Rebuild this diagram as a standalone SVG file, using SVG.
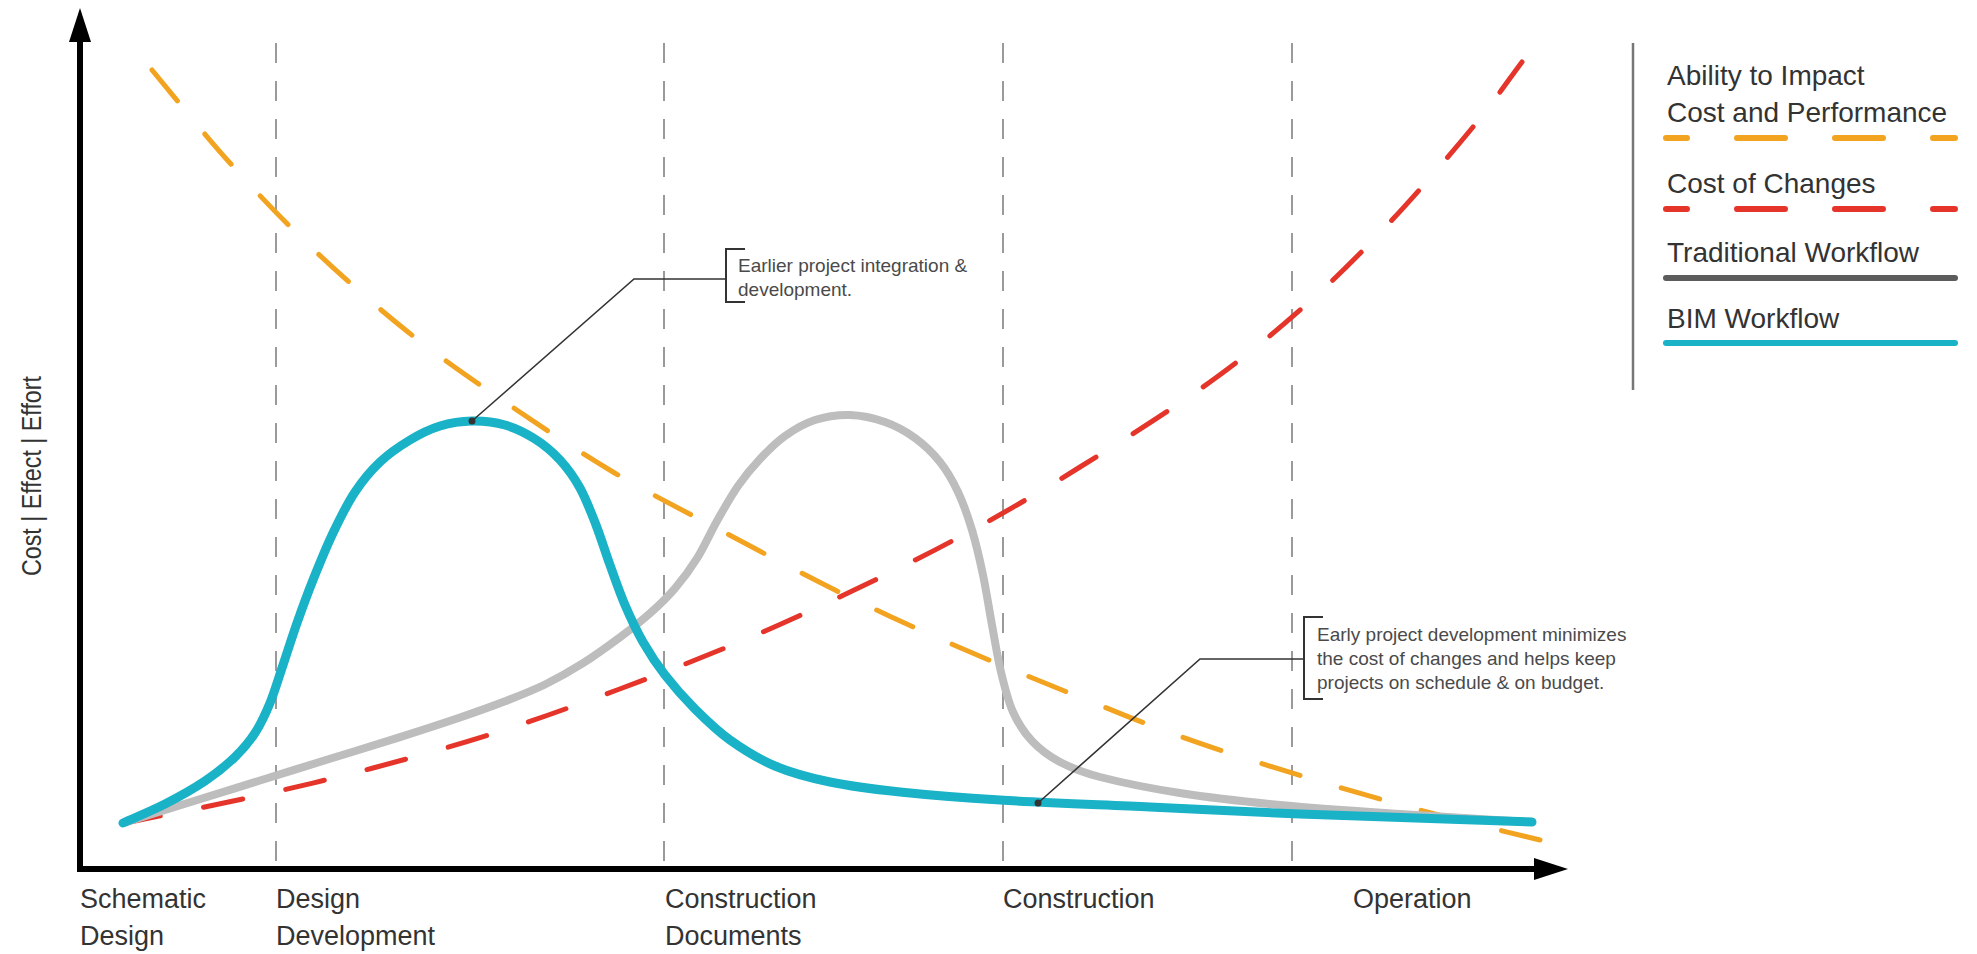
<svg xmlns="http://www.w3.org/2000/svg" width="1977" height="954" viewBox="0 0 1977 954">
<style>
.grid{stroke:#9a9a9a;stroke-width:2;stroke-dasharray:20 18;fill:none}
.axis{stroke:#000;stroke-width:6;fill:none}
.lbl{font-family:"Liberation Sans",Arial,sans-serif;font-size:27px;fill:#333}
.leg{font-family:"Liberation Sans",Arial,sans-serif;font-size:28px;fill:#333}
.note{font-family:"Liberation Sans",Arial,sans-serif;font-size:19px;fill:#4a4a4a}
.orange{stroke:#F2A31F;stroke-width:5;fill:none;stroke-dasharray:40 43;stroke-linecap:round}
.red{stroke:#E5352B;stroke-width:5;fill:none;stroke-dasharray:40 44;stroke-linecap:round}
.trad{stroke:#BDBDBD;stroke-width:8;fill:none;stroke-linecap:round;stroke-linejoin:round}
.bim{stroke:#19B2C6;stroke-width:9;fill:none;stroke-linecap:round;stroke-linejoin:round}
.leader{stroke:#333;stroke-width:1.6;fill:none}
.bracket{stroke:#333;stroke-width:2;fill:none}
.legdash{stroke-width:6;stroke-dasharray:48 50;stroke-dashoffset:27;stroke-linecap:round;fill:none}
</style>
<rect width="1977" height="954" fill="#fff"/>
<g id="grid">
<line class="grid" x1="276" y1="43" x2="276" y2="869"/>
<line class="grid" x1="664" y1="43" x2="664" y2="869"/>
<line class="grid" x1="1003" y1="43" x2="1003" y2="869"/>
<line class="grid" x1="1292" y1="43" x2="1292" y2="869"/>
</g>
<g id="axes">
<line class="axis" x1="80" y1="869" x2="80" y2="36"/>
<polygon points="80,8 69,42 91,42" fill="#000"/>
<line class="axis" x1="77" y1="869" x2="1540" y2="869"/>
<polygon points="1568,869 1534,858 1534,880" fill="#000"/>
<text class="lbl" transform="translate(41,476) rotate(-90)" text-anchor="middle" font-size="25" textLength="200" lengthAdjust="spacingAndGlyphs">Cost | Effect | Effort</text>
</g>
<g id="phase-labels">
<text class="lbl" x="80" y="908">Schematic</text>
<text class="lbl" x="80" y="945">Design</text>
<text class="lbl" x="276" y="908">Design</text>
<text class="lbl" x="276" y="945">Development</text>
<text class="lbl" x="665" y="908">Construction</text>
<text class="lbl" x="665" y="945">Documents</text>
<text class="lbl" x="1003" y="908">Construction</text>
<text class="lbl" x="1353" y="908">Operation</text>
</g>
<g id="connectors">
<path id="ability-curve" class="orange" d="M152,70 C176.7,99.7 203,133 230,163 S282.3,219.8 312,248 S375.8,306.3 408,332 S470.8,378.7 505,402 S577.2,450.7 613,472 S683,510.3 720,530 S797.2,571.3 835,590 S908.3,625 947,642 S1027.8,676.2 1067,692 S1142.3,722.8 1182,737 S1264.2,764.5 1305,777 S1387.8,801.5 1427,812 S1502.3,830.7 1540,840"/>
<path id="changes-curve" class="red" stroke-dashoffset="4" d="M125,823 C167.3,814.3 210.7,806.2 252,797 S332,778.8 373,768 S457.3,745 498,732 S577.2,704.8 617,690 S698.2,659.3 737,643 S811.7,610.3 850,592 S928.7,553.8 967,533 S1039.5,492.2 1080,467 S1172,409.3 1210,382 S1277.7,330 1308,303 S1364.5,249.3 1392,220 S1451.3,153.3 1473,127 S1505.7,83.7 1522,62"/>
<path id="traditional-curve" class="trad" d="M123,823 C145.33,816.07 167.17,809.28 190,802.2 S236.67,787.73 260,780.5 S306.67,766.03 330,758.8 S378.33,743.98 400,737.1 S442.5,723.47 460,717.5 S490.83,706.8 505,701.3 S532,690.85 545,684.5 S570.5,671.07 583,663.2 S608.83,645.62 620,637.3 S640.83,621.47 650,613.3 S667.17,597.45 675,588.3 S690,569.62 697,558.4 S710.17,533.07 717,521 S730.83,496.33 738,486 S752.17,467.33 760,459 S775.83,442.5 785,436 S804.17,423.5 815,420 S838.33,414.67 850,415 S874.17,418.17 885,422 S905.83,431.33 915,438 S932.83,453 940,462 S952.67,480.67 958,492 S967.83,516.17 972,530 S979.67,559.17 983,575 S989,608.83 992,625 S997.5,657.5 1001,672 S1007.83,700.5 1013,712 S1024.17,732.67 1032,741 S1048.67,756 1060,762 S1080,771.83 1100,777 S1150,788.33 1180,793 S1243.33,801.5 1280,805 S1358,811.17 1400,814 S1488,819.33 1532,822"/>
<path id="bim-curve" class="bim" d="M123,823 C137,816.67 151.33,811 165,804 S193.33,788.83 205,781 S226.67,765 235,757 S249.17,742 255,733 S265.33,714.33 270,703 S278.5,678.33 283,665 S292,637.17 297,623 S307,595 313,580 S326,547.67 333,533 S347.17,503.83 355,492 S370.83,470.67 380,462 S400,446 410,440 S429.67,429.17 440,426 S461.17,421.17 472,421 S494.5,422 505,425 S525.83,433.17 535,439 S552.5,451.83 560,460 S574,477.17 580,488 S591,512.17 596,525 S605.17,551.67 610,565 S619.5,592.17 625,605 S636.33,630.33 643,642 S656.33,663.83 665,675 S684.17,698.17 695,709 S716.67,730.5 730,740 S758.33,759 775,766 S809.17,777.67 830,782 S871.67,789 900,792 S958.33,797.5 1000,800 S1100,804.67 1150,807 S1236.33,811.5 1300,814 S1454.67,819.33 1532,822"/>
<path id="leader-1" class="leader" d="M472,421 L634,279 H726"/>
<path id="leader-2" class="leader" d="M1038,803 L1200,659 H1304"/>
<circle cx="472" cy="421" r="3.5" fill="#333"/>
<circle cx="1038" cy="803" r="3.5" fill="#333"/>
</g>
<g id="note-early-integration">
<path class="bracket" d="M745,249 H726 V302 H745"/>
<text class="note" x="738" y="272">Earlier project integration &amp;</text>
<text class="note" x="738" y="296">development.</text>
</g>
<g id="note-early-development">
<path class="bracket" d="M1323,617 H1304 V699 H1323"/>
<text class="note" x="1317" y="641">Early project development minimizes</text>
<text class="note" x="1317" y="665">the cost of changes and helps keep</text>
<text class="note" x="1317" y="689">projects on schedule &amp; on budget.</text>
</g>
<g id="legend">
<line x1="1633" y1="43" x2="1633" y2="390" stroke="#777" stroke-width="2.5"/>
<g id="legend-ability">
<text class="leg" x="1667" y="85">Ability to Impact</text>
<text class="leg" x="1667" y="122">Cost and Performance</text>
<line class="legdash" x1="1666" y1="138" x2="1955" y2="138" stroke="#F2A31F"/>
</g>
<g id="legend-changes">
<text class="leg" x="1667" y="193">Cost of Changes</text>
<line class="legdash" x1="1666" y1="209" x2="1955" y2="209" stroke="#E5352B"/>
</g>
<g id="legend-traditional">
<text class="leg" x="1667" y="262">Traditional Workflow</text>
<line x1="1666" y1="278" x2="1955" y2="278" stroke="#5c5c5c" stroke-width="6" stroke-linecap="round"/>
</g>
<g id="legend-bim">
<text class="leg" x="1667" y="328">BIM Workflow</text>
<line x1="1666" y1="343" x2="1955" y2="343" stroke="#19B2C6" stroke-width="6" stroke-linecap="round"/>
</g>
</g>
</svg>
